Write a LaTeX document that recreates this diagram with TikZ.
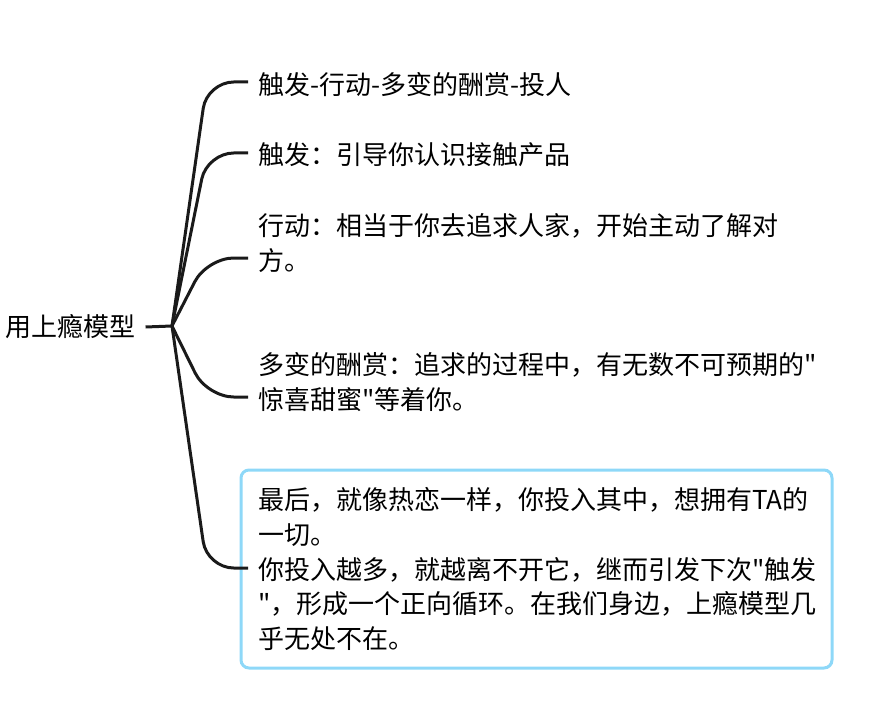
\documentclass[tikz,border=0pt]{standalone}
\usepackage{fontspec}
\newfontfamily\cjk{Noto Sans CJK SC}
\definecolor{kastenblau}{HTML}{8ED8F8}
\definecolor{zweigfarbe}{HTML}{1A1A1A}
\tikzset{
	zweig/.style={line width=2.25pt, color=zweigfarbe, rounded corners=20pt},
	txt/.style={anchor=west, inner sep=0pt, align=left, font=\cjk\fontsize{19.5}{26}\selectfont},
	kasten/.style={draw=kastenblau, line width=2.25pt, rounded corners=6pt, inner xsep=12.75pt,
		text width=417.75pt, minimum height=148.5pt, align=left, font=\cjk\fontsize{19.5}{26}\selectfont}
}
\begin{document}
\begin{tikzpicture}[x=0.75pt,y=-0.75pt]
\useasboundingbox (0,0) rectangle (877,727);

%Wurzel
\node[txt] (wurzel) at (5,327) {用上瘾模型};
\coordinate (hub) at (172,326);

%Aeste
\node[txt] (n1) at (258,85) {触发-行动-多变的酬赏-投人};
\node[txt] (n2) at (258,155) {触发：引导你认识接触产品};
\node[txt] (n3) at (258,243) {行动：相当于你去追求人家，开始主动了解对\\方。};
\node[txt] (n4) at (258,382) {多变的酬赏：追求的过程中，有无数不可预期的"\\惊喜甜蜜"等着你。};
\node[kasten] (n5) at (536.5,569) {最后，就像热恋一样，你投入其中，想拥有TA的\\一切。\\你投入越多，就越离不开它，继而引发下次"触发\\"，形成一个正向循环。在我们身边，上瘾模型几\\乎无处不在。};

%Enden der Aeste
\coordinate (e1) at (248,82);
\coordinate (e2) at (248,153);
\coordinate (e3) at (248,258);
\coordinate (e4) at (248,397);
\coordinate (e5) at (248,568);

\draw[zweig] ([xshift=7.5pt]wurzel.east) -- (hub);
\foreach \e/\y in {e1/82, e2/153, e3/258, e4/397, e5/568}
{
	\draw[zweig] (hub) -- (207,\y) -- (\e);
}

\end{tikzpicture}
\end{document}
